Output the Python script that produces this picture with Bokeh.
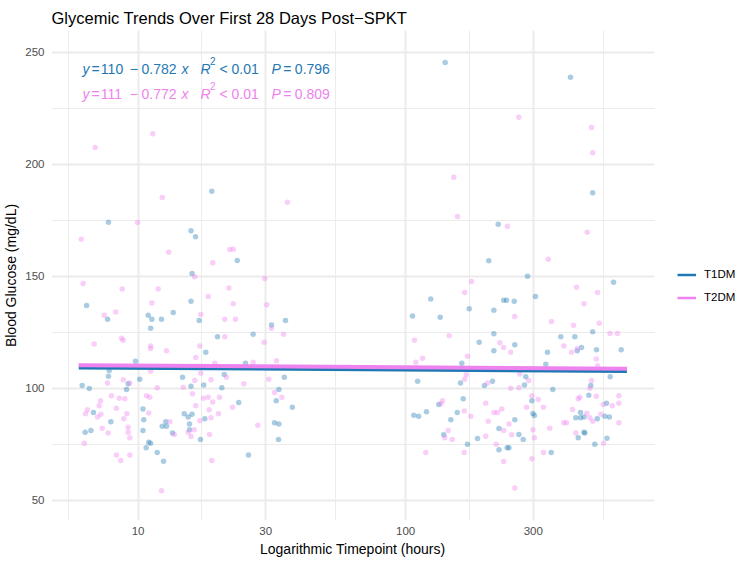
import numpy as np
from bokeh.plotting import figure
from bokeh.models import (Legend, LegendItem, FixedTicker, ColumnDataSource,
                          Range1d, NumeralTickFormatter, BoxAnnotation, Title)
from bokeh.embed import file_html
from bokeh.resources import INLINE
from bokeh.core.properties import value

# ---------------- data ----------------
groups = ["T1DM", "T2DM"]

t1_hours = [6.42, 7.69, 10.91, 11.26, 11.14, 12.23, 13.53, 15.77, 16.92, 9.78,
            17.91, 7.80, 7.75, 9.18, 9.05, 10.15, 6.18, 6.57, 14.66, 15.77,
            17.60, 6.81, 7.91, 6.34, 6.66, 10.43, 10.50, 10.43, 12.69, 12.31,
            12.77, 13.45, 10.96, 11.14, 10.72, 11.79, 12.45, 14.88, 15.39, 15.91,
            15.57, 15.57, 17.11, 17.76, 18.86, 7.75, 15.77, 16.39, 23.48, 15.91,
            31.53, 35.56, 19.81, 26.93, 25.20, 20.99, 35.21, 20.56, 33.60, 32.84,
            23.79, 37.73, 32.36, 33.60, 33.49, 25.86,
            140.6, 413.5, 500.5, 221.9, 204.6, 285.6, 598.9, 305.9, 124.2, 106.1,
            134.7, 172.9, 213.8, 232.6, 238.4, 254.7, 188.4, 213.8, 213.8, 256.0,
            162.2, 160.4, 110.9, 197.2, 211.3, 164.2, 133.1, 156.0, 107.3, 111.9,
            119.7, 147.6, 223.4, 256.0, 138.9, 185.7, 170.4, 223.4, 239.8, 243.5,
            380.4, 429.1, 500.5, 438.1, 454.6, 517.3, 639.7, 339.2, 334.3, 281.4,
            278.3, 581.7, 492.5, 355.1, 296.4, 484.1, 563.4, 450.7, 432.7, 450.7,
            464.5, 520.5, 555.8, 577.7, 299.3, 303.1, 265.2, 275.2, 464.5, 467.7,
            441.9, 565.9, 509.8, 350.2]
t1_glucose = [137.0, 130.9, 132.7, 130.9, 126.9, 130.9, 133.9, 139.0, 130.3, 112.2,
              116.2, 108.0, 105.5, 102.1, 99.5, 104.1, 101.3, 100.0, 105.0, 101.0,
              101.6, 89.3, 85.1, 80.5, 81.2, 90.9, 86.1, 81.2, 85.1, 83.2,
              83.2, 80.1, 76.0, 75.6, 73.6, 71.4, 67.5, 88.7, 87.3, 88.5,
              84.2, 81.6, 77.2, 86.5, 188.1, 174.2, 170.4, 167.7, 157.1, 151.3,
              128.4, 130.3, 123.1, 124.2, 111.3, 106.2, 105.0, 100.3, 99.5, 94.5,
              93.7, 91.6, 84.7, 84.2, 77.2, 70.3,
              245.5, 239.0, 187.4, 173.3, 157.0, 150.1, 147.4, 141.1, 139.9, 132.4,
              131.8, 135.6, 134.9, 139.4, 139.4, 139.0, 120.7, 124.4, 116.9, 119.5,
              111.3, 102.4, 103.2, 101.3, 103.2, 95.4, 92.8, 89.3, 88.1, 87.6,
              89.6, 86.1, 82.1, 86.1, 79.3, 77.7, 75.1, 72.6, 73.6, 73.6,
              123.1, 123.1, 125.3, 116.9, 118.3, 117.3, 117.3, 116.2, 110.8, 105.2,
              101.6, 105.2, 101.3, 99.5, 94.5, 97.0, 93.4, 89.3, 86.9, 86.9,
              87.3, 86.5, 87.6, 87.3, 88.8, 87.9, 79.5, 77.2, 80.5, 80.1,
              78.0, 77.8, 75.1, 71.4]

t2_hours = [11.35, 6.91, 12.31, 36.18, 9.95, 6.13, 13.02, 22.02, 22.70, 19.01,
            16.29, 29.76, 6.23, 8.72, 11.89, 7.47, 8.25, 11.26, 17.16, 18.29,
            6.85, 8.67, 8.80, 11.14, 11.14, 12.77, 17.01, 16.43, 7.69, 8.80,
            9.31, 11.14, 11.79, 14.75, 16.29, 17.16, 7.95, 8.50, 8.92, 7.24,
            7.15, 6.47, 6.36, 7.26, 7.05, 8.30, 9.07, 8.84, 7.34, 7.73,
            6.29, 9.18, 9.18, 9.31, 10.75, 11.06, 10.96, 13.14, 13.65, 8.30,
            8.61, 9.31, 12.23, 15.39, 16.20, 15.77, 16.43, 15.97, 17.01, 17.56,
            18.29, 21.84, 22.70, 30.27, 21.10, 23.13, 31.53, 21.10, 34.97, 29.60,
            19.35, 26.93, 32.92, 21.41, 18.73, 30.80, 24.84, 32.36, 34.46, 19.01,
            20.15, 22.54, 18.44, 18.73, 19.98, 28.02, 18.49, 18.86,
            265.2, 495.4, 500.5, 151.4, 156.3, 240.4, 477.5, 341.3, 176.3, 166.2,
            435.5, 521.9, 464.5, 256.0, 351.1, 424.4, 529.5, 108.0, 145.5, 225.0,
            232.6, 247.0, 581.2, 619.4, 390.3, 417.1, 438.1, 516.0, 521.9, 109.2,
            115.7, 170.4, 168.5, 166.2, 202.4, 247.0, 267.2, 288.8, 265.2, 495.4,
            488.5, 137.4, 135.4, 199.3, 165.6, 175.3, 213.8, 220.6, 228.9, 203.6,
            232.6, 243.5, 144.3, 140.1, 149.4, 199.3, 218.1, 249.2, 119.0, 165.6,
            232.6, 256.0, 296.4, 313.1, 283.1, 327.7, 448.0, 441.9, 516.0, 627.0,
            627.0, 592.3, 548.1, 420.7, 475.8, 488.5, 500.5, 536.9, 627.0, 390.3,
            399.5, 299.3, 346.0, 303.1, 432.7, 549.6, 327.7, 296.4]
t2_glucose = [213.7, 207.6, 185.3, 183.2, 174.1, 166.6, 160.8, 162.0, 162.2, 156.1,
              149.9, 149.1, 146.9, 144.4, 144.4, 132.7, 134.2, 138.2, 133.0, 141.1,
              119.9, 122.4, 121.5, 119.0, 117.9, 116.9, 119.0, 113.8, 102.4, 103.9,
              102.4, 107.7, 100.3, 100.6, 103.6, 106.8, 96.8, 95.7, 95.4, 94.5,
              92.3, 90.5, 88.7, 88.5, 87.3, 91.2, 88.7, 86.5, 82.3, 80.1,
              75.6, 82.7, 80.5, 78.0, 96.8, 96.1, 89.1, 85.1, 79.5, 70.3,
              67.8, 70.3, 54.4, 80.5, 81.6, 78.6, 92.3, 97.6, 85.6, 95.7,
              96.1, 144.9, 137.8, 137.4, 130.9, 130.9, 126.9, 123.1, 124.2, 120.7,
              111.3, 111.7, 112.4, 105.0, 103.9, 104.1, 102.1, 98.2, 96.1, 94.0,
              96.1, 91.6, 90.5, 86.9, 88.7, 83.6, 79.5, 67.8,
              221.1, 216.5, 205.2, 194.3, 176.8, 172.4, 169.8, 157.7, 147.8, 142.9,
              145.2, 142.9, 137.8, 132.1, 129.9, 128.2, 129.1, 121.5, 123.6, 120.4,
              118.3, 116.2, 124.6, 124.6, 119.0, 116.2, 117.9, 113.2, 110.1, 111.7,
              113.5, 114.4, 106.1, 104.1, 102.4, 100.1, 106.5, 103.6, 100.3, 103.6,
              100.1, 94.5, 93.2, 93.4, 89.9, 87.6, 89.3, 89.3, 90.9, 85.4,
              81.2, 84.2, 81.2, 78.0, 77.2, 78.7, 75.1, 79.3, 71.4, 71.4,
              67.4, 55.6, 96.8, 95.1, 91.6, 91.6, 96.1, 95.4, 96.5, 96.8,
              93.4, 92.3, 92.8, 90.6, 89.0, 86.9, 85.4, 88.5, 84.7, 84.7,
              84.7, 81.6, 82.3, 78.0, 80.1, 75.6, 71.4, 68.6]

# regression fits (glucose ~ log10(hours)), as annotated
fit_intercept = [110, 111]
fit_slope = [-0.782, -0.772]
fit_r2 = ["< 0.01", "< 0.01"]
fit_p = ["0.796", "0.809"]
fit_hours = [6, 672]          # first 28 days, from 6 h to 672 h

x_ticks = [10, 30, 100, 300]
y_ticks = [50, 100, 150, 200, 250]

# ---------------- style / layout ----------------
BLUE = "#1F78B4"
PINK = "#EE82EE"
colors = [BLUE, PINK]
FONT = "Liberation Sans"
GRID = "#EBEBEB"

PX_PER_DECADE = 267.5
PANEL_W = 603          # visible plotting panel width (px)
FRAME_W, FRAME_H = 700, 490   # frame extends under the legend area
log_lo = 0.6763
x_start = 10 ** log_lo
x_panel_end = 10 ** (log_lo + PANEL_W / PX_PER_DECADE)
x_end = 10 ** (log_lo + FRAME_W / PX_PER_DECADE)
y_start, y_end = 41.07, 259.82

p = figure(frame_width=FRAME_W, frame_height=FRAME_H, x_axis_type="log",
           x_range=Range1d(x_start, x_end), y_range=Range1d(y_start, y_end),
           output_backend="svg", toolbar_location=None,
           min_border_left=50, min_border_right=0, min_border_top=30, min_border_bottom=43,
           background_fill_color="white", border_fill_color="white")
p.outline_line_color = None

# ticks / grid
ext = [3] + x_ticks + [1000]
x_minor = [float(np.sqrt(a * b)) for a, b in zip(ext[:-1], ext[1:])]
yext = [0] + y_ticks + [300]
y_minor = [(a + b) / 2 for a, b in zip(yext[:-1], yext[1:])]
p.xaxis.ticker = FixedTicker(ticks=x_ticks, minor_ticks=x_minor)
p.yaxis.ticker = FixedTicker(ticks=y_ticks, minor_ticks=y_minor)
p.xaxis.formatter = NumeralTickFormatter(format="0")

for g in (p.xgrid, p.ygrid):
    g.grid_line_color = GRID
    g.grid_line_width = 1.9
    g.minor_grid_line_color = GRID
    g.minor_grid_line_width = 0.95

for ax in (p.xaxis, p.yaxis):
    ax.axis_line_color = None
    ax.major_tick_line_color = None
    ax.minor_tick_line_color = None
    ax.major_tick_out = 0
    ax.major_tick_in = 0
    ax.minor_tick_out = 0
    ax.minor_tick_in = 0
    ax.major_label_text_font = FONT
    ax.major_label_text_font_size = "11.5px"
    ax.major_label_text_color = "#4D4D4D"
    ax.axis_label_text_font = FONT
    ax.axis_label_text_font_size = "14px"
    ax.axis_label_text_font_style = "normal"
    ax.axis_label_text_color = "black"

p.yaxis.axis_label = "Blood Glucose (mg/dL)"
p.xaxis.major_label_standoff = 6
p.yaxis.major_label_standoff = 7
p.yaxis.axis_label_standoff = 3

# x-axis title, centred under the visible panel (not the wider frame)
XLAB = "Logarithmic Timepoint (hours)"
xlab_w = 186.0
xt = Title(text=XLAB, align="left", offset=PANEL_W / 2 - xlab_w / 2,
           text_font=FONT, text_font_size="14px", text_font_style="normal",
           text_color="black", standoff=2)
p.add_layout(xt, "below")

p.title.text = "Glycemic Trends Over First 28 Days Post\u2212SPKT"
p.title.text_font = FONT
p.title.text_font_size = "16.5px"
p.title.text_font_style = "normal"
p.title.text_color = "black"
p.title.align = "left"
p.title.offset = 0
p.title.standoff = 7

# white cover for the grid beyond the panel (legend area)
p.add_layout(BoxAnnotation(left=x_panel_end, fill_color="white", fill_alpha=1.0,
                           line_color=None, level="underlay"))

# ---------------- points ----------------
src1 = ColumnDataSource(dict(x=t1_hours, y=t1_glucose))
src2 = ColumnDataSource(dict(x=t2_hours, y=t2_glucose))
p.scatter("x", "y", source=src1, size=5.5, fill_color=BLUE, fill_alpha=0.38, line_color=None)
p.scatter("x", "y", source=src2, size=5.5, fill_color=PINK, fill_alpha=0.38, line_color=None)

# ---------------- regression lines ----------------
fx = np.array(fit_hours, dtype=float)
for b0, b1, c in zip(fit_intercept, fit_slope, colors):
    p.line(fx, b0 + b1 * np.log10(fx), line_color=c, line_width=4)

# ---------------- equation annotations ----------------
layout = [("y", "it", 0), ("=", "rm", 9), ("INT", "rm", 18.3), ("\u2212", "rm", 47.3),
          ("SLOPE", "rm", 59), ("x", "it", 99), ("R", "it", 118), ("2", "sup", 127.5),
          ("R2OP", "rm", 137), ("R2VAL", "rm", 149), ("P", "it", 189), ("=", "rm", 200.7),
          ("PVAL", "rm", 212.3)]
base_dx = 3.8
line_dy = [38.8, 63.8]
pieces = {"it": dict(x=[], y=[], text=[], xo=[], yo=[], color=[]),
          "rm": dict(x=[], y=[], text=[], xo=[], yo=[], color=[]),
          "sup": dict(x=[], y=[], text=[], xo=[], yo=[], color=[])}
for i in range(len(groups)):
    r2op, r2val = fit_r2[i].split(" ")
    subs = {"INT": f"{fit_intercept[i]:.0f}", "SLOPE": f"{abs(fit_slope[i]):.3f}",
            "R2OP": r2op, "R2VAL": r2val, "PVAL": fit_p[i]}
    for txt, kind, dx in layout:
        d = pieces[kind]
        d["x"].append(fit_hours[0])
        d["y"].append(y_end)
        d["text"].append(subs.get(txt, txt))
        d["xo"].append(base_dx + dx)
        d["yo"].append(line_dy[i] + (-8 if kind == "sup" else 0))
        d["color"].append(colors[i])

for kind, style, size in (("it", "italic", "14px"), ("rm", "normal", "14px"), ("sup", "normal", "10px")):
    p.text(x="x", y="y", text="text", x_offset="xo", y_offset="yo", text_color="color",
           source=ColumnDataSource(pieces[kind]), text_font=value(FONT),
           text_font_size=size, text_font_style=style,
           text_align="left", text_baseline="alphabetic")

# ---------------- legend ----------------
nan2 = np.array([np.nan, np.nan])
k1 = p.line(x=nan2, y=nan2, line_color=BLUE, line_width=2.5)
k2 = p.line(x=nan2, y=nan2, line_color=PINK, line_width=2.5)
legend = Legend(items=[LegendItem(label=groups[0], renderers=[k1]),
                       LegendItem(label=groups[1], renderers=[k2])],
                location=(626, 211.5), orientation="vertical",
                glyph_width=19, glyph_height=23, label_height=23, label_standoff=8,
                spacing=0, padding=0, margin=0,
                border_line_color=None, background_fill_alpha=0,
                label_text_font=FONT, label_text_font_size="11.5px",
                label_text_color="black")
p.add_layout(legend)

open("out.html", "w").write(file_html(p, INLINE))
